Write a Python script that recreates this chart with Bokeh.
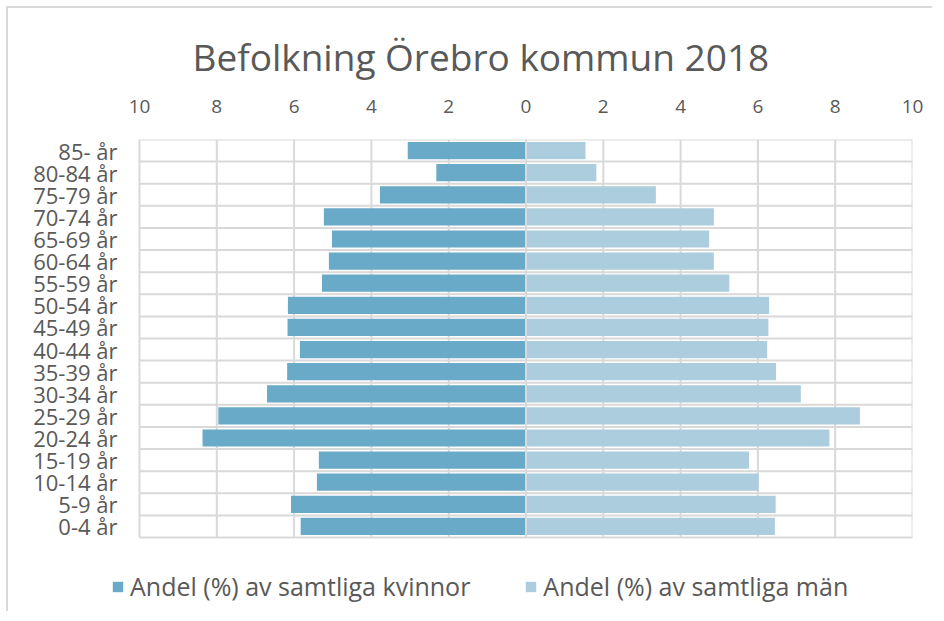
from bokeh.plotting import figure
from bokeh.models import (Range1d, FixedTicker, Legend, LegendItem,
                          ColumnDataSource)
from bokeh.core.properties import value
from bokeh.embed import file_html
from bokeh.resources import INLINE

# ---- data (bottom to top) ----
ages = ["0-4 år", "5-9 år", "10-14 år", "15-19 år", "20-24 år", "25-29 år",
        "30-34 år", "35-39 år", "40-44 år", "45-49 år", "50-54 år", "55-59 år",
        "60-64 år", "65-69 år", "70-74 år", "75-79 år", "80-84 år", "85- år"]
women = [5.83, 6.08, 5.41, 5.36, 8.37, 7.96, 6.70, 6.18, 5.85, 6.17, 6.16,
         5.28, 5.10, 5.02, 5.23, 3.78, 2.32, 3.06]
men = [6.44, 6.46, 6.02, 5.77, 7.85, 8.64, 7.11, 6.47, 6.24, 6.27, 6.29,
       5.26, 4.86, 4.74, 4.86, 3.36, 1.82, 1.54]
x_ticks = [-10, -8, -6, -4, -2, 0, 2, 4, 6, 8, 10]
x_tick_labels = ["10", "8", "6", "4", "2", "0", "2", "4", "6", "8", "10"]
title_text = "Befolkning Örebro kommun 2018"
women_label = "Andel (%) av samtliga kvinnor"
men_label = "Andel (%) av samtliga män"

TXT = "#595959"
GRID = "#d9d9d9"
FONT = "Open Sans"

n = len(ages)
XMIN, XMAX = x_ticks[0], x_ticks[-1]
ypos = [i + 0.5 for i in range(n)]
src = ColumnDataSource(dict(y=ypos, wl=[-v for v in women], mr=men,
                            lx=[XMIN] * n, lab=ages))
# grid line sources derived from tick values and category count
row_edges = list(range(n + 1))
vgrid = ColumnDataSource(dict(x=x_ticks, y0=[0] * len(x_ticks), y1=[n] * len(x_ticks)))
hgrid = ColumnDataSource(dict(y=row_edges, x0=[XMIN] * len(row_edges),
                              x1=[XMAX] * len(row_edges)))
zero = ColumnDataSource(dict(x=[x_ticks[len(x_ticks) // 2]], y0=[0], y1=[n]))

# ---- layout (canvas pixels) ----
W, H = 926, 605
TOP = 131            # plot area top
PLOT_L, PLOT_R = 131, 904   # plot area left/right (x = -10 / 10)
PLOT_B = 529         # plot area bottom (y = 0)
RIGHT_BORDER = W - PLOT_R
xu = (XMAX - XMIN) / (PLOT_R - PLOT_L)
yu = n / (PLOT_B - TOP)
x_start = XMIN - PLOT_L * xu
y_start = -(H - PLOT_B) * yu

p = figure(width=W, height=H, x_range=Range1d(x_start, XMAX),
           y_range=Range1d(y_start, n),
           output_backend="svg", toolbar_location=None, x_axis_location="above",
           y_axis_location=None,
           min_border_left=0, min_border_right=RIGHT_BORDER, min_border_top=TOP,
           min_border_bottom=0)
p.styles = {"border-top": "2px solid #d9d9d9", "border-left": "2px solid #d9d9d9",
            "position": "relative", "left": "6px", "top": "6px"}

p.outline_line_color = None
p.background_fill_color = "white"
p.border_fill_color = "white"
p.xgrid.visible = False
p.ygrid.visible = False

# title
p.title.text = title_text
p.title.align = "left"
p.title.offset = 184
p.title.text_font = FONT
p.title.text_font_size = "37px"
p.title.text_font_style = "normal"
p.title.text_color = TXT
p.title.standoff = 30

# x axis (top)
xa = p.xaxis[0]
xa.ticker = FixedTicker(ticks=x_ticks)
xa.major_label_overrides = {t: l for t, l in zip(x_ticks, x_tick_labels)}
xa.axis_line_color = None
xa.major_tick_line_color = None
xa.minor_tick_line_color = None
xa.major_label_text_font = FONT
xa.major_label_text_font_size = "19px"
xa.major_label_text_color = TXT
xa.major_label_standoff = 21

# grid lines of the plot area (under the bars)
p.segment(x0="x", y0="y0", x1="x", y1="y1", source=vgrid,
          line_color=GRID, line_width=2)
p.segment(x0="x0", y0="y", x1="x1", y1="y", source=hgrid,
          line_color=GRID, line_width=2)

rw = p.hbar(y="y", left="wl", right=0, height=0.78, source=src,
            fill_color="#68aac8", line_color=None)
rm = p.hbar(y="y", left=0, right="mr", height=0.78, source=src,
            fill_color="#accddd", line_color=None)

# zero line visible between the two sides
p.segment(x0="x", y0="y0", x1="x", y1="y1", source=zero,
          line_color=GRID, line_width=2)

# category labels
p.text(x="lx", y="y", text="lab", source=src, x_offset=-22,
       text_align="right", text_baseline="middle", text_font=value(FONT),
       text_font_size="22px", text_color=TXT)

legend = Legend(items=[LegendItem(label=women_label, renderers=[rw]),
                       LegendItem(label=men_label, renderers=[rm])],
                orientation="horizontal", location=(103, 10),
                glyph_width=13, glyph_height=13, label_standoff=6, spacing=54,
                padding=0, margin=0, border_line_color=None,
                background_fill_alpha=0, label_text_font=FONT,
                label_text_font_size="25px", label_text_color=TXT)
p.add_layout(legend, "center")

open("out.html", "w").write(file_html(p, INLINE))
